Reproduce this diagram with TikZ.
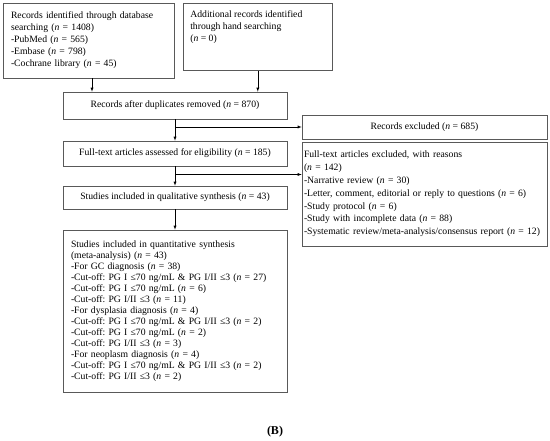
\documentclass[tikz,border=0pt]{standalone}
\usepackage{fontspec}
\setmainfont{Liberation Serif}
\frenchspacing
\newcommand{\vn}{\textit{n}}
\begin{document}
\begin{tikzpicture}[x=1pt,y=-1pt,>=latex,
  box/.style={draw=black!65,line width=0.6pt,inner sep=0pt,font=\fontsize{9.7}{12}\selectfont},
  mainbox/.style={box,minimum width=224pt},
  sidebox/.style={box,minimum width=245pt}]
  \useasboundingbox (0,0) rectangle (550,441);
  \node[box,minimum width=171pt,minimum height=75pt,text width=155pt,align=left] (db) at (88.5,40.5)
    {Records identified through database\\searching (\vn{} = 1408)\\-PubMed (\vn{} = 565)\\-Embase (\vn{} = 798)\\-Cochrane library (\vn{} = 45)};
  \node[box,anchor=north west,inner xsep=7pt,inner ysep=7pt] (hand) at (183,3)
    {\parbox[t][53pt][t]{135pt}{Additional records identified\\through hand searching\\(\vn{} = 0)}};
  \node[mainbox,minimum height=27pt] (dupl) at (175,105.5) {Records after duplicates removed (\vn{} = 870)};
  \node[sidebox,minimum height=104pt,text width=241pt,align=left,font=\fontsize{9.7}{12.8}\selectfont] (reasons) at (424.5,194)
    {Full-text articles excluded, with reasons\\(\vn{} = 142)\\-Narrative review (\vn{} = 30)\\-Letter, comment, editorial or reply to questions (\vn{} = 6)\\-Study protocol (\vn{} = 6)\\-Study with incomplete data (\vn{} = 88)\\-Systematic review/meta-analysis/consensus report (\vn{} = 12)};
  \node[sidebox,minimum height=24pt] (excl) at (424.5,127) {Records excluded (\vn{} = 685)};
  \node[mainbox,minimum height=25pt] (full) at (175,153.5) {Full-text articles assessed for eligibility (\vn{} = 185)};
  \node[mainbox,minimum height=23pt] (qual) at (175,197.5) {Studies included in qualitative synthesis (\vn{} = 43)};
  \node[mainbox,minimum height=162pt,text width=208pt,align=left,font=\fontsize{9.7}{11}\selectfont] (quant) at (175,311)
    {Studies included in quantitative synthesis\\(meta-analysis) (\vn{} = 43)\\-For GC diagnosis (\vn{} = 38)\\-Cut-off: PG I ≤70 ng/mL \& PG I/II ≤3 (\vn{} = 27)\\-Cut-off: PG I ≤70 ng/mL (\vn{} = 6)\\-Cut-off: PG I/II ≤3 (\vn{} = 11)\\-For dysplasia diagnosis (\vn{} = 4)\\-Cut-off: PG I ≤70 ng/mL \& PG I/II ≤3 (\vn{} = 2)\\-Cut-off: PG I ≤70 ng/mL (\vn{} = 2)\\-Cut-off: PG I/II ≤3 (\vn{} = 3)\\-For neoplasm diagnosis (\vn{} = 4)\\-Cut-off: PG I ≤70 ng/mL \& PG I/II ≤3 (\vn{} = 2)\\-Cut-off: PG I/II ≤3 (\vn{} = 2)};
  \node[font=\fontsize{12}{14}\selectfont\bfseries] (label) at (275,432) {(B)};
  \coordinate (s1) at ([xshift=3.5pt]db.south);
  \coordinate (s2) at (hand.south);
  \coordinate (j1) at (dupl.south |- excl.west);
  \coordinate (j2) at (175,174.5);
  \draw[->] (s1) -- (s1 |- dupl.north);
  \draw[->] (s2) -- (s2 |- dupl.north);
  \draw[->] (dupl) -- (full);
  \draw[->] (j1) -- (excl.west);
  \draw[->] (full) -- (qual);
  \draw[->] (j2) -- (j2 -| reasons.west);
  \draw[->] (qual) -- (quant);
\end{tikzpicture}
\end{document}
